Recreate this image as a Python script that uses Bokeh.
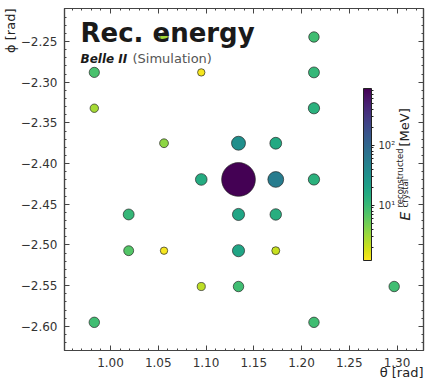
import numpy as np
from bokeh.plotting import figure
from bokeh.models import (ColumnDataSource, LogColorMapper, ColorBar, FixedTicker, Title,
                          SingleIntervalTicker, LinearAxis, Label, CustomJSTickFormatter, Range1d)
from bokeh.palettes import Viridis256
from bokeh.embed import file_html
from bokeh.resources import INLINE

# ---- data ----
theta = [0.983, 0.983, 0.983, 1.019, 1.019, 1.056, 1.056, 1.056, 1.095, 1.095, 1.095,
         1.134, 1.134, 1.134, 1.134, 1.134, 1.173, 1.173, 1.173, 1.173,
         1.213, 1.213, 1.213, 1.213, 1.213, 1.297]
phi = [-2.288, -2.332, -2.595, -2.4625, -2.507, -2.2445, -2.375, -2.507, -2.288, -2.4195, -2.551,
       -2.4195, -2.375, -2.4625, -2.507, -2.551, -2.375, -2.4195, -2.4625, -2.507,
       -2.2445, -2.288, -2.332, -2.4195, -2.595, -2.551]
energy = [8, 2.9, 9, 11, 7, 3, 3.7, 1.3, 1.3, 15, 2.3,
          880, 33, 18, 18, 9, 16, 55, 14, 2.1,
          9, 11, 13, 13, 9, 9]
cbar_ticks = [10, 100]
cbar_labels = {10: "10\u00b9", 100: "10\u00b2"}
e_low, e_high = 1.2, 880

FONT = "DejaVu Sans"

src = ColumnDataSource(dict(theta=theta, phi=phi, energy=energy,
                            d=[4 + 3.1 * e ** (1 / 3) for e in energy]))

p = figure(frame_width=359, frame_height=342, output_backend="svg", toolbar_location=None,
           x_range=Range1d(0.9518, 1.3277), y_range=Range1d(-2.6296, -2.2095),
           min_border_left=64, min_border_right=2, min_border_top=8, min_border_bottom=29,
           x_axis_location=None, y_axis_location=None)
p.background_fill_color = "white"
p.border_fill_color = "white"
p.outline_line_color = "#444444"
p.outline_line_width = 1.2
p.grid.visible = False

mapper = LogColorMapper(palette=list(reversed(Viridis256)), low=e_low, high=e_high)

fmt = CustomJSTickFormatter(code="return tick.toFixed(2).replace('-', '\\u2212');")

def style_axis(ax, show_labels):
    ax.axis_line_color = "#444444"
    ax.axis_line_width = 1.2
    ax.major_tick_in = 5
    ax.major_tick_out = 0
    ax.minor_tick_in = 2
    ax.minor_tick_out = 0
    ax.major_tick_line_color = "#444444"
    ax.minor_tick_line_color = "#444444"
    ax.major_label_text_font = FONT
    ax.major_label_text_color = "#333333"
    ax.major_label_text_font_size = "12px"
    ax.major_label_standoff = 7 if show_labels else 0
    ax.formatter = fmt if show_labels else CustomJSTickFormatter(code="return '';")

for loc in ("below", "above", "left", "right"):
    tk = SingleIntervalTicker(interval=0.05, num_minor_ticks=5)
    ax = LinearAxis(ticker=tk)
    style_axis(ax, loc in ("below", "left"))
    p.add_layout(ax, loc)

# axis titles, aligned to the far ends like the reference
p.add_layout(Title(text="\u03b8 [rad]", align="right", text_font=FONT, text_font_size="13px",
                   text_font_style="normal", text_color="#222222", standoff=-14), "below")
p.add_layout(Title(text="\u03d5 [rad]", align="right", text_font=FONT, text_font_size="13px",
                   text_font_style="normal", text_color="#222222", standoff=0), "left")

p.scatter("theta", "phi", source=src, size="d",
          fill_color={"field": "energy", "transform": mapper},
          line_color="#222222", line_width=0.8, line_alpha=0.85)

cb = ColorBar(color_mapper=mapper, location=(299, 90), width=8, height=172, padding=0,
              ticker=FixedTicker(ticks=cbar_ticks,
                                 minor_ticks=[2, 3, 4, 5, 6, 7, 8, 9, 20, 30, 40, 50, 60, 70, 80, 90, 200, 300, 400, 500, 600, 700, 800]),
              major_label_overrides=cbar_labels,
              major_tick_in=0, major_tick_out=3, minor_tick_in=0, minor_tick_out=2,
              major_tick_line_color="#222222", minor_tick_line_color="#222222",
              bar_line_color="#222222", bar_line_width=1,
              major_label_text_font=FONT, major_label_text_font_size="10px",
              major_label_text_color="#333333", label_standoff=4,
              background_fill_alpha=0, border_line_color=None)
p.add_layout(cb, "center")

def lab(text, x, y, size, style="normal", color="#222222", angle=0, align="left",
        baseline="alphabetic"):
    p.add_layout(Label(x=x, y=y, x_units="screen", y_units="screen", text=text,
                       text_font=FONT, text_font_size=size, text_font_style=style,
                       text_color=color, angle=angle, text_align=align,
                       text_baseline=baseline))

lab("Rec. energy", 16, 318, "26px", "bold", "#1a1a1a")
lab("Belle II", 16, 292, "12px", "bold italic", "#1a1a1a")
lab("(Simulation)", 68, 292, "13px", "normal", "#555555")

# colour-bar title: E^{reconstructed}_{crystal} [MeV]
lab("E", 340, 130, "14px", "italic", "#222222", angle=np.pi / 2)
lab("reconstructed", 335, 143, "8.5px", "normal", "#222222", angle=np.pi / 2)
lab("crystal", 340, 143, "8.5px", "normal", "#222222", angle=np.pi / 2)
lab("[MeV]", 340, 204, "13px", "normal", "#222222", angle=np.pi / 2)

open("out.html", "w").write(file_html(p, INLINE))
